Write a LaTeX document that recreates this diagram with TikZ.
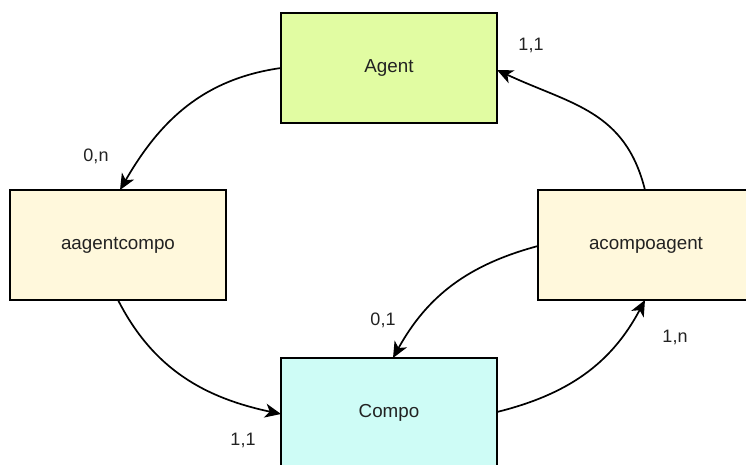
\documentclass[tikz,border=0pt]{standalone}
\usepackage{fontspec}
\setmainfont{Liberation Sans}
\usetikzlibrary{arrows.meta}

\definecolor{entgreen}{RGB}{225,252,162}
\definecolor{relcream}{RGB}{255,248,220}
\definecolor{entcyan}{RGB}{206,252,246}
\definecolor{txtgray}{RGB}{34,34,34}

\tikzset{
  box/.style={draw=black, line width=1.8pt, rectangle,
              minimum width=216pt, minimum height=110pt,
              inner sep=0pt, outer sep=0pt,
              font=\fontsize{18.8}{22}\selectfont, text=txtgray},
  entity/.style={box, fill=#1},
  link/.style={line width=1.7pt, -{Stealth[length=16pt,width=14pt,inset=4.5pt]}},
  card/.style={font=\fontsize{18}{21}\selectfont, text=txtgray, inner sep=0pt}
}

\begin{document}
\begin{tikzpicture}[x=1pt,y=1pt]
  \useasboundingbox (0,0) rectangle (746,464);
  \clip (0,0) rectangle (746,464);

  % entities and associations
  \node[entity=entgreen] (agent) at (389,396) {Agent};
  \node[entity=relcream] (aac) at (118,219) {aagentcompo};
  \node[entity=relcream] (aca) at (646,219) {acompoagent};
  \node[entity=entcyan] (compo) at (389,51) {Compo};

  % connectors
  \draw[link] (agent.west) to[out=188,in=60] ([xshift=2pt]aac.north);
  \draw[link] (aac.south) to[out=-63,in=168] ([yshift=-1pt]compo.west);
  \draw[link] ([yshift=-1pt]aca.west) to[out=195,in=61] ([xshift=4pt]compo.north);
  \draw[link] ([yshift=1pt]compo.east) to[out=14,in=242] ([xshift=-1pt]aca.south);
  \draw[link] ([xshift=-1pt]aca.north) to[out=104,in=-25,looseness=1.1] ([yshift=-2pt]agent.east);

  % cardinalities
  \node[card] (c1) at (96,308) {0,n};
  \node[card] (c2) at (243,24) {1,1};
  \node[card] (c3) at (383,144) {0,1};
  \node[card] (c4) at (675,127) {1,n};
  \node[card] (c5) at (531,419) {1,1};
\end{tikzpicture}
\end{document}
